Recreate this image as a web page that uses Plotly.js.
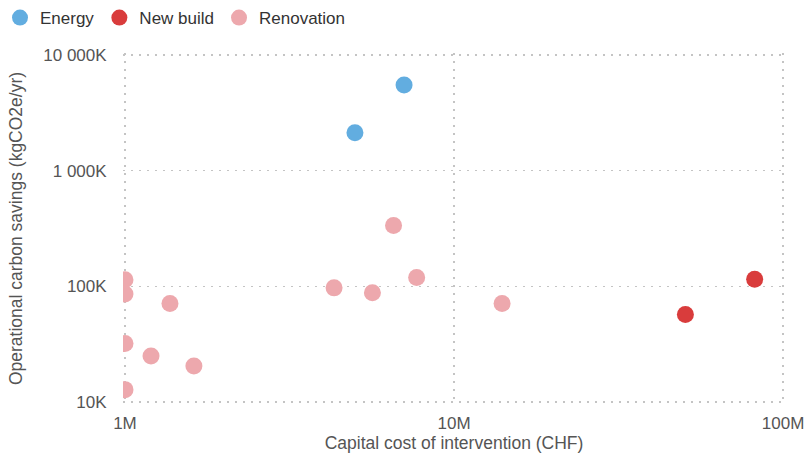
<!DOCTYPE html>
<html>
<head>
<meta charset="utf-8">
<script src="https://cdn.plot.ly/plotly-3.0.1.min.js"></script>
<style>html,body{margin:0;padding:0;background:#fff}#chart{width:810px;height:454px}</style>
</head>
<body>
<div id="chart"></div>
<script>
// Data (capital cost in CHF, operational carbon savings in kgCO2e/yr)
const energyCost = [5.0e6, 7.05e6];
const energySavings = [2130000, 5500000];

const newBuildCost = [50.5e6, 82e6];
const newBuildSavings = [57000, 115000];

const renovationCost = [1.0e6, 1.0e6, 1.37e6, 1.0e6, 1.2e6, 1.62e6, 1.0e6, 4.32e6, 5.65e6, 6.55e6, 7.7e6, 14e6];
const renovationSavings = [114000, 86000, 71000, 32000, 25000, 20500, 12800, 97000, 88000, 335000, 119000, 71000];

const xTickVals = [1e6, 1e7, 1e8];
const xTickText = ['1M', '10M', '100M'];
const yTickVals = [1e4, 1e5, 1e6, 1e7];
const yTickText = ['10K', '100K', '1 000K', '10 000K'];

const mk = (c) => ({size: 17, color: c, opacity: 1, line: {width: 0}});
const traces = [
  {type: 'scatter', mode: 'markers', name: 'Energy', x: energyCost, y: energySavings, marker: mk('#62ade0')},
  {type: 'scatter', mode: 'markers', name: 'New build', x: newBuildCost, y: newBuildSavings, marker: mk('#d93c3c')},
  {type: 'scatter', mode: 'markers', name: 'Renovation', x: renovationCost, y: renovationSavings, marker: mk('#eda8ad')}
];

const gridStyle = {gridcolor: '#c4c4c4', griddash: '2px,6px', gridwidth: 1.5};
const FONT = 'Liberation Sans, Arial, sans-serif';
const layout = {
  width: 810, height: 454,
  margin: {l: 123, r: 25, t: 53, b: 50},
  paper_bgcolor: '#fff', plot_bgcolor: '#fff',
  font: {family: FONT, color: '#555', size: 17},
  showlegend: true,
  legend: {orientation: 'h', x: 0, y: 1, xref: 'container', yref: 'container', xanchor: 'left', yanchor: 'top',
           font: {size: 17, color: '#333'}, itemwidth: 30, tracegroupgap: 0},
  xaxis: Object.assign({
    type: 'log', range: [5.994, 8.006], tickvals: xTickVals, ticktext: xTickText,
    showline: false, zeroline: false, ticks: 'outside', ticklen: 4, tickcolor: 'rgba(0,0,0,0)',
    tickfont: {size: 17, color: '#555'},
    title: {text: 'Capital cost of intervention (CHF)', font: {size: 17.5, color: '#555'}, standoff: 4}
  }, gridStyle),
  yaxis: Object.assign({
    type: 'log', range: [3.983, 7.017], tickvals: yTickVals, ticktext: yTickText,
    showline: false, zeroline: false, ticks: 'outside', ticklen: 12, tickcolor: 'rgba(0,0,0,0)',
    tickfont: {size: 17, color: '#555'},
    title: {text: 'Operational carbon savings (kgCO2e/yr)', font: {size: 17.5, color: '#555'}, standoff: 16}
  }, gridStyle)
};

Plotly.newPlot('chart', traces, layout, {displayModeBar: false, staticPlot: true});
</script>
</body>
</html>
